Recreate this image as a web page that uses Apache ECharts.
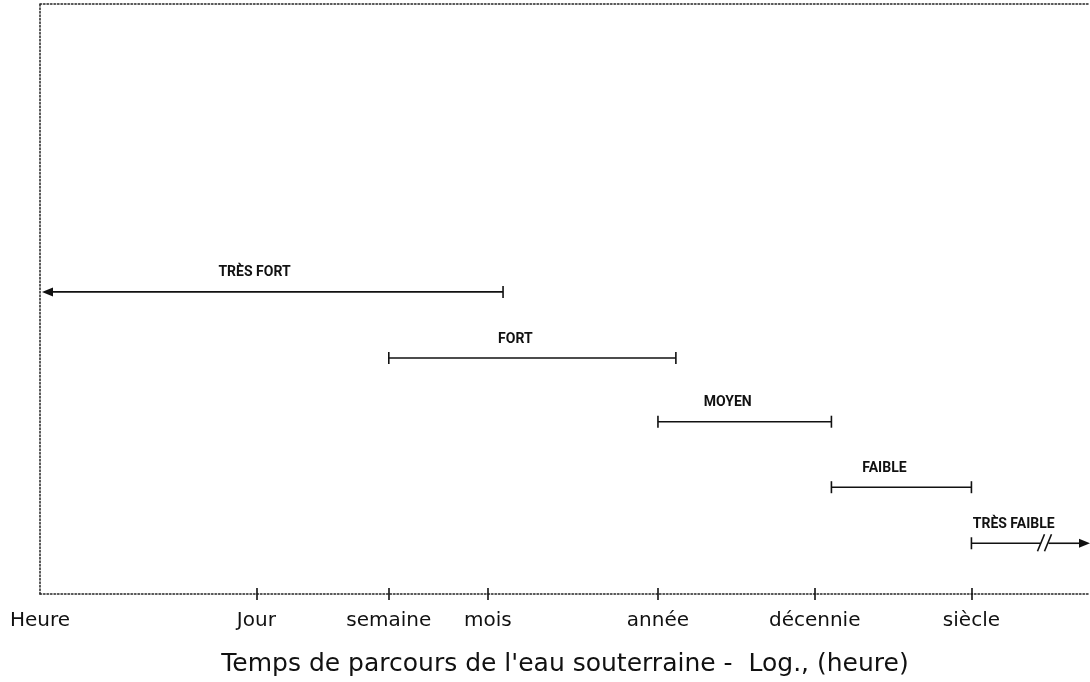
<!DOCTYPE html>
<html>
<head>
<meta charset="utf-8">
<script src="https://cdn.jsdelivr.net/npm/echarts@6/dist/echarts.min.js"></script>
<style>
  html, body { margin: 0; padding: 0; background: #fff; }
  #chart { width: 1090px; height: 682px; }
</style>
</head>
<body>
<div id="chart"></div>
<script>
// ---- data ----
const tickNames = ['Heure', 'Jour', 'semaine', 'mois', 'année', 'décennie', 'siècle'];
const tickHours = [1, 24, 168, 720, 8760, 87600, 876000];
const axisMaxHours = 5000000;

const classNames = ['TRÈS FORT', 'FORT', 'MOYEN', 'FAIBLE', 'TRÈS FAIBLE'];
const startHours = [1, 168, 8760, 112000, 876000];
const endHours = [900, 11400, 112000, 876000, 5000000];
const levels = [5.12, 4.0, 2.92, 1.81, 0.86];
const startMarks = ['arrow', 'bar', 'bar', 'bar', 'bar'];
const endMarks = ['bar', 'bar', 'bar', 'bar', 'arrow'];
const breakHours = [null, null, null, null, 2600000];

// ---- chart ----
const lg = v => Math.log10(v);
const tickLogs = tickHours.map(lg);
const innerTicks = tickLogs.slice(1);

const labelFont = 'bold 14px Roboto, "Liberation Sans", sans-serif';
const measureCtx = document.createElement('canvas').getContext('2d');
measureCtx.font = labelFont;

const seriesData = classNames.map((n, i) => [lg(startHours[i]), lg(endHours[i]), levels[i], i]);

const INK = '#111';

function renderItem(params, api) {
  const i = api.value(3);
  const y = api.value(2);
  const p0 = api.coord([api.value(0), y]);
  const p1 = api.coord([api.value(1), y]);
  const yy = p0[1];
  const lineStyle = { stroke: INK, lineWidth: 1.6, fill: null };
  const children = [];
  let xs = p0[0], xe = p1[0];
  const aw = 11, ah = 4.5, cap = 6;
  if (startMarks[i] === 'arrow') {
    children.push({ type: 'polygon', shape: { points: [[xs + 2, yy], [xs + 2 + aw, yy - ah], [xs + 2 + aw, yy + ah]] }, style: { fill: INK } });
    xs = xs + aw;
  } else {
    children.push({ type: 'line', shape: { x1: xs, y1: yy - cap, x2: xs, y2: yy + cap }, style: lineStyle });
  }
  if (endMarks[i] === 'arrow') {
    children.push({ type: 'polygon', shape: { points: [[xe, yy], [xe - aw, yy - ah], [xe - aw, yy + ah]] }, style: { fill: INK } });
    xe = xe - aw + 1;
  } else {
    children.push({ type: 'line', shape: { x1: xe, y1: yy - cap, x2: xe, y2: yy + cap }, style: lineStyle });
  }
  if (breakHours[i] != null) {
    const xb = api.coord([lg(breakHours[i]), y])[0];
    children.push({ type: 'line', shape: { x1: xs, y1: yy, x2: xb - 5, y2: yy }, style: lineStyle });
    children.push({ type: 'line', shape: { x1: xb + 3, y1: yy, x2: xe, y2: yy }, style: lineStyle });
    children.push({ type: 'line', shape: { x1: xb - 8, y1: yy + 8, x2: xb - 1, y2: yy - 9 }, style: lineStyle });
    children.push({ type: 'line', shape: { x1: xb - 1, y1: yy + 8, x2: xb + 6, y2: yy - 9 }, style: lineStyle });
  } else {
    children.push({ type: 'line', shape: { x1: xs, y1: yy, x2: xe, y2: yy }, style: lineStyle });
  }
  // label
  const w = measureCtx.measureText(classNames[i]).width;
  let lx = (p0[0] + p1[0]) / 2 - 17;
  const rightLimit = params.coordSys.x + params.coordSys.width - 12;
  if (lx + w / 2 > rightLimit) lx = rightLimit - w / 2;
  children.push({
    type: 'text',
    style: {
      x: lx, y: yy - 19, text: classNames[i],
      font: labelFont, fill: INK, align: 'center', verticalAlign: 'middle'
    }
  });
  return { type: 'group', children };
}

const chart = echarts.init(document.getElementById('chart'), null, { renderer: 'canvas' });
const dotted = { color: '#222', width: 1.5, type: [1.5, 2] };

chart.setOption({
  backgroundColor: '#fff',
  animation: false,
  grid: { left: 40, right: 0, top: 4, bottom: 88, containLabel: false, outerBoundsMode: 'none' },
  xAxis: [
    {
      type: 'value', min: 0, max: lg(axisMaxHours), position: 'bottom',
      axisLine: { show: true, lineStyle: dotted },
      axisTick: { show: true, customValues: innerTicks, length: 6, inside: false, lineStyle: { color: INK, width: 1.6 } },
      axisLabel: {
        show: true, customValues: tickLogs, margin: 17,
        fontFamily: 'DejaVu Sans', fontSize: 20, color: INK,
        formatter: v => { const k = tickLogs.findIndex(t => Math.abs(t - v) < 1e-6); return k >= 0 ? tickNames[k] : ''; }
      },
      splitLine: { show: false },
      name: "Temps de parcours de l'eau souterraine -  Log., (heure)",
      nameLocation: 'middle', nameGap: 58,
      nameTextStyle: { fontFamily: 'DejaVu Sans', fontSize: 25, color: INK }
    },
    {
      type: 'value', min: 0, max: lg(axisMaxHours), position: 'bottom',
      axisLine: { show: false },
      axisTick: { show: true, customValues: innerTicks, length: 6, inside: true, lineStyle: { color: INK, width: 1.6 } },
      axisLabel: { show: false },
      splitLine: { show: false }
    },
    {
      type: 'value', min: 0, max: lg(axisMaxHours), position: 'top',
      axisLine: { show: true, lineStyle: dotted },
      axisTick: { show: false }, axisLabel: { show: false }, splitLine: { show: false }
    }
  ],
  yAxis: {
    type: 'value', min: 0, max: 10,
    axisLine: { show: true, lineStyle: dotted },
    axisTick: { show: false }, axisLabel: { show: false }, splitLine: { show: false }
  },
  series: [{
    type: 'custom',
    xAxisIndex: 0, yAxisIndex: 0,
    renderItem,
    encode: { x: [0, 1], y: 2 },
    data: seriesData,
    clip: false
  }]
});
</script>
</body>
</html>
